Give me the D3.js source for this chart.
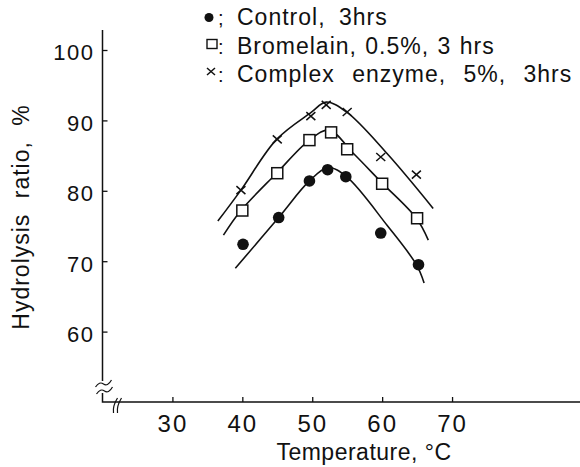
<!DOCTYPE html>
<html>
<head>
<meta charset="utf-8">
<script src="https://cdn.jsdelivr.net/npm/d3@7"></script>
<style>
  body { margin: 0; background: #fff; }
  svg text { font-family: "Liberation Sans", Arial, sans-serif; fill: #111; }
</style>
</head>
<body>
<div id="chart"></div>
<script>
// measured points (temperature in °C, hydrolysis ratio in %)
const controlTemp = [40.1, 45.2, 49.6, 52.2, 54.8, 59.8, 65.2];
const controlRatio = [72.4, 76.2, 81.4, 83.0, 82.0, 74.0, 69.5];
const bromelainTemp = [40, 45, 49.6, 52.7, 55, 60, 65];
const bromelainRatio = [77.2, 82.5, 87.2, 88.3, 85.9, 81.0, 76.1];
const complexTemp = [39.8, 45, 49.8, 52.0, 55, 59.8, 64.9];
const complexRatio = [80.1, 87.3, 90.6, 92.2, 91.2, 84.8, 82.3];

// fitted curves
const controlCurveTemp = [39.0, 45.2, 49.6, 52.3, 54.9, 60.7, 64.9, 66.0];
const controlCurveRatio = [69.0, 76.2, 81.4, 83.3, 82.0, 75.1, 69.5, 66.9];
const bromelainCurveTemp = [37.3, 39.8, 44.9, 49.6, 52.4, 55.9, 59.9, 64.9, 66.6];
const bromelainCurveRatio = [73.7, 77.2, 82.5, 87.2, 88.6, 85.3, 81.2, 76.1, 73.0];
const complexCurveTemp = [36.5, 39.8, 44.9, 49.8, 52.0, 54.9, 60.7, 67.3];
const complexCurveRatio = [75.7, 80.1, 87.3, 91.1, 92.6, 91.2, 85.3, 77.5];

const xTicks = [30, 40, 50, 60, 70];
const yTicks = [60, 70, 80, 90, 100];
const legendLabels = ['Control, 3hrs', 'Bromelain, 0.5%, 3 hrs', 'Complex enzyme, 5%, 3hrs'];
const legendSeparators = [';', ':', ':'];
const markerKinds = ['circle', 'square', 'cross'];

class HydrolysisChart {
    width; height;
    svg; plot;
    scaleX; scaleY;

    constructor(container, width, height) {
        this.width = width;
        this.height = height;
        this.svg = d3.select(container).append('svg')
            .attr('width', width)
            .attr('height', height);
        this.plot = this.svg.append('g');
    }

    #updateScales() {
        this.scaleX = d3.scaleLinear([20, 88.3], [102.5, 580]);
        this.scaleY = d3.scaleLinear([50, 100], [402, 50]);
    }

    #marker(sel, kind, x, y) {
        if (kind === 'circle') {
            sel.append('circle').attr('cx', x).attr('cy', y).attr('r', 5.8)
                .attr('fill', '#111');
        } else if (kind === 'square') {
            sel.append('rect').attr('x', x - 5.5).attr('y', y - 5.5)
                .attr('width', 11).attr('height', 11)
                .attr('fill', '#fff').attr('stroke', '#111').attr('stroke-width', 1.5);
        } else {
            sel.append('path')
                .attr('d', `M${x - 4.5},${y - 4}L${x + 4.5},${y + 4}M${x - 4.5},${y + 4}L${x + 4.5},${y - 4}`)
                .attr('stroke', '#111').attr('stroke-width', 1.5).attr('fill', 'none');
        }
    }

    #updateAxes() {
        const x = this.scaleX, y = this.scaleY;
        const x0 = x.range()[0], yb = y.range()[0];

        const axisX = this.svg.append('g')
            .attr('transform', `translate(0, ${yb})`)
            .call(d3.axisBottom(x).tickValues(xTicks).tickSize(-5).tickPadding(13));
        axisX.select('.domain').remove();
        axisX.selectAll('.tick line').attr('stroke', '#111').attr('stroke-width', 1.3);
        axisX.selectAll('.tick text')
            .attr('font-size', 24).attr('letter-spacing', 2).attr('fill', '#111')
            .style('font-family', '"Liberation Sans", Arial, sans-serif');

        const axisY = this.svg.append('g')
            .attr('transform', `translate(${x0}, 0)`)
            .call(d3.axisLeft(y).tickValues(yTicks).tickSize(-5).tickPadding(8));
        axisY.select('.domain').remove();
        axisY.selectAll('.tick line').attr('stroke', '#111').attr('stroke-width', 1.3);
        axisY.selectAll('.tick text')
            .attr('font-size', 22).attr('letter-spacing', 1.5).attr('dy', '0.45em').attr('fill', '#111')
            .style('font-family', '"Liberation Sans", Arial, sans-serif');

        // axis lines with break marks
        const lines = this.svg.append('g')
            .attr('fill', 'none').attr('stroke', '#111').attr('stroke-width', 1.5);
        lines.append('path').attr('d', `M${x0},${y(100) - 20}V${yb - 21}`);
        lines.append('path').attr('d', `M${x0},${yb - 9}V${yb}H${this.width}`);
        lines.append('path').attr('stroke-width', 1.2)
            .attr('d', `M${x0 - 7},${yb - 15}q4,-6 8,-3t8,-4M${x0 - 6},${yb - 8}q4,-6 8,-3t8,-4`);
        lines.append('path').attr('stroke-width', 1.2)
            .attr('d', `M${x0 + 11},${yb + 11}q-1,-7 4,-15M${x0 + 15},${yb + 11}q-1,-7 4,-15`);

        this.svg.append('text')
            .attr('x', 364).attr('y', 460)
            .attr('text-anchor', 'middle')
            .attr('font-size', 23).attr('letter-spacing', 0.5)
            .text('Temperature, °C');

        this.svg.append('text')
            .attr('transform', `translate(29, 217) rotate(-90)`)
            .attr('text-anchor', 'middle')
            .attr('font-size', 23).attr('letter-spacing', 1).attr('word-spacing', 8)
            .text('Hydrolysis ratio, %');
    }

    #updateSeries(series) {
        const x = this.scaleX, y = this.scaleY;
        const line = d3.line().curve(d3.curveCatmullRom.alpha(0.5))
            .x(d => x(d[0])).y(d => y(d[1]));

        series.forEach(s => {
            this.plot.append('path')
                .datum(d3.zip(s.curveTemp, s.curveRatio))
                .attr('d', line)
                .attr('fill', 'none').attr('stroke', '#111').attr('stroke-width', 1.6);
        });
        series.forEach(s => {
            const g = this.plot.append('g');
            d3.zip(s.temp, s.ratio).forEach(([t, r]) => this.#marker(g, s.kind, x(t), y(r)));
        });
    }

    #updateLegend() {
        const legend = this.svg.append('g');
        const rowY = [25, 53.5, 82];
        const markY = [17.5, 44, 71.5];
        const wordGap = [6, 1, 10];
        legendLabels.forEach((label, i) => {
            const kind = markerKinds[i];
            if (kind === 'circle') {
                legend.append('circle').attr('cx', 209).attr('cy', markY[i]).attr('r', 4.5).attr('fill', '#111');
            } else if (kind === 'square') {
                legend.append('rect').attr('x', 207).attr('y', markY[i] - 4.5)
                    .attr('width', 10).attr('height', 9)
                    .attr('fill', '#fff').attr('stroke', '#111').attr('stroke-width', 1.4);
            } else {
                legend.append('path')
                    .attr('d', `M207,${markY[i] - 3.5}L215,${markY[i] + 3.5}M207,${markY[i] + 3.5}L215,${markY[i] - 3.5}`)
                    .attr('stroke', '#111').attr('stroke-width', 1.5);
            }
            legend.append('text').attr('x', 218).attr('y', rowY[i])
                .attr('font-size', 20).text(legendSeparators[i]);
            legend.append('text').attr('x', 237).attr('y', rowY[i])
                .attr('font-size', 23).attr('letter-spacing', 1).attr('word-spacing', wordGap[i])
                .text(label);
        });
    }

    render(series) {
        this.#updateScales();
        this.#updateAxes();
        this.#updateSeries(series);
        this.#updateLegend();
        return this;
    }
}

const series = [
    { kind: 'circle', temp: controlTemp, ratio: controlRatio, curveTemp: controlCurveTemp, curveRatio: controlCurveRatio },
    { kind: 'square', temp: bromelainTemp, ratio: bromelainRatio, curveTemp: bromelainCurveTemp, curveRatio: bromelainCurveRatio },
    { kind: 'cross', temp: complexTemp, ratio: complexRatio, curveTemp: complexCurveTemp, curveRatio: complexCurveRatio }
];

new HydrolysisChart('#chart', 580, 467).render(series);
</script>
</body>
</html>
